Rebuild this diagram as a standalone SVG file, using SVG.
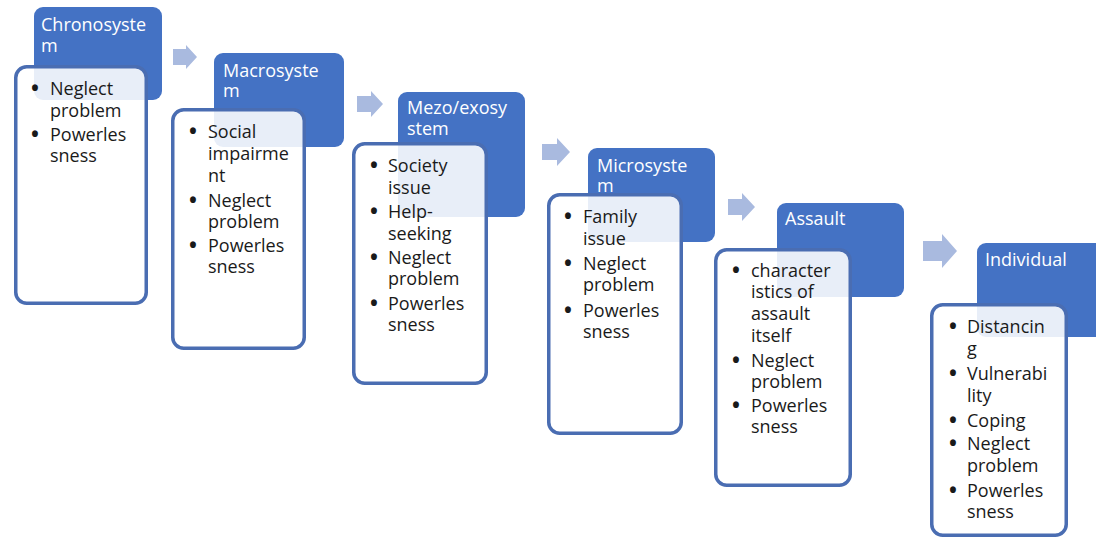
<svg xmlns="http://www.w3.org/2000/svg" width="1096" height="539" viewBox="0 0 1096 539">
<style>
.hd{fill:#4472c4;}
.bx{fill:#ffffff;fill-opacity:0.88;stroke:#4a6db2;stroke-width:3.5;}
.ht{fill:#ffffff;font-family:"Open Sans","DejaVu Sans",sans-serif;font-size:18px;}
.bt{fill:#1a1a1a;font-family:"Open Sans","DejaVu Sans",sans-serif;font-size:18px;}
.bu{font-size:21px;font-weight:bold;}
.ar{fill:#a9badf;}
</style>
<rect width="1096" height="539" fill="#ffffff"/>
<g id="connectors">
<path class="ar" d="M173,49 H186 V45 L197,57 L186,69 V65 H173 Z"/>
<path class="ar" d="M357,96 H371 V91 L383,104 L371,117 V112 H357 Z"/>
<path class="ar" d="M542,144 H557 V138 L570,152 L557,166 V160 H542 Z"/>
<path class="ar" d="M728,199 H742 V193 L755,207 L742,221 V215 H728 Z"/>
<path class="ar" d="M923,241 H942 V234 L957,251 L942,268 V261 H923 Z"/>
</g>
<g id="chronosystem">
<rect class="hd" x="34" y="7" width="128" height="93" rx="9"/>
<text class="ht"><tspan x="41" y="31">Chronosyste</tspan><tspan x="41" y="52">m</tspan></text>
<rect class="bx" x="15.75" y="66.75" width="130.5" height="236.5" rx="11"/>
<text class="bt"><tspan class="bu" x="31" y="96">•</tspan><tspan x="50" y="95">Neglect</tspan><tspan x="50" y="117">problem</tspan><tspan class="bu" x="31" y="142">•</tspan><tspan x="50" y="141">Powerles</tspan><tspan x="50" y="162">sness</tspan></text>
</g>
<g id="macrosystem">
<rect class="hd" x="214" y="53" width="130" height="94" rx="9"/>
<text class="ht"><tspan x="223" y="77">Macrosyste</tspan><tspan x="223" y="97">m</tspan></text>
<rect class="bx" x="172.75" y="109.75" width="131.5" height="238.5" rx="11"/>
<text class="bt"><tspan class="bu" x="189" y="139">•</tspan><tspan x="208" y="138">Social</tspan><tspan x="208" y="160">impairme</tspan><tspan x="208" y="182">nt</tspan><tspan class="bu" x="189" y="208">•</tspan><tspan x="208" y="207">Neglect</tspan><tspan x="208" y="228">problem</tspan><tspan class="bu" x="189" y="253">•</tspan><tspan x="208" y="252">Powerles</tspan><tspan x="208" y="273">sness</tspan></text>
</g>
<g id="mezo-exosystem">
<rect class="hd" x="398" y="92" width="127" height="125" rx="9"/>
<text class="ht"><tspan x="407" y="114">Mezo/exosy</tspan><tspan x="407" y="135">stem</tspan></text>
<rect class="bx" x="353.75" y="143.75" width="132.5" height="239.5" rx="11"/>
<text class="bt"><tspan class="bu" x="370" y="173">•</tspan><tspan x="388" y="172">Society</tspan><tspan x="388" y="194">issue</tspan><tspan class="bu" x="370" y="219">•</tspan><tspan x="388" y="218">Help-</tspan><tspan x="388" y="240">seeking</tspan><tspan class="bu" x="370" y="265">•</tspan><tspan x="388" y="264">Neglect</tspan><tspan x="388" y="285">problem</tspan><tspan class="bu" x="370" y="311">•</tspan><tspan x="388" y="310">Powerles</tspan><tspan x="388" y="331">sness</tspan></text>
</g>
<g id="microsystem">
<rect class="hd" x="588" y="148" width="127" height="94" rx="9"/>
<text class="ht"><tspan x="597" y="172">Microsyste</tspan><tspan x="597" y="192">m</tspan></text>
<rect class="bx" x="548.75" y="194.75" width="132.5" height="238.5" rx="11"/>
<text class="bt"><tspan class="bu" x="564" y="224">•</tspan><tspan x="583" y="223">Family</tspan><tspan x="583" y="245">issue</tspan><tspan class="bu" x="564" y="271">•</tspan><tspan x="583" y="270">Neglect</tspan><tspan x="583" y="291">problem</tspan><tspan class="bu" x="564" y="318">•</tspan><tspan x="583" y="317">Powerles</tspan><tspan x="583" y="338">sness</tspan></text>
</g>
<g id="assault">
<rect class="hd" x="777" y="203" width="127" height="94" rx="9"/>
<text class="ht"><tspan x="785" y="225">Assault</tspan></text>
<rect class="bx" x="715.75" y="249.75" width="134.5" height="235.5" rx="11"/>
<text class="bt"><tspan class="bu" x="732" y="278">•</tspan><tspan x="751" y="277">character</tspan><tspan x="751" y="298">istics of</tspan><tspan x="751" y="320">assault</tspan><tspan x="751" y="342">itself</tspan><tspan class="bu" x="732" y="368">•</tspan><tspan x="751" y="367">Neglect</tspan><tspan x="751" y="388">problem</tspan><tspan class="bu" x="732" y="413">•</tspan><tspan x="751" y="412">Powerles</tspan><tspan x="751" y="433">sness</tspan></text>
</g>
<g id="individual">
<rect class="hd" x="977" y="243" width="135" height="94" rx="9"/>
<text class="ht"><tspan x="985" y="266">Individual</tspan></text>
<rect class="bx" x="931.75" y="304.75" width="134.5" height="230.5" rx="11"/>
<text class="bt"><tspan class="bu" x="949" y="334">•</tspan><tspan x="967" y="333">Distancin</tspan><tspan x="967" y="355">g</tspan><tspan class="bu" x="949" y="381">•</tspan><tspan x="967" y="380">Vulnerabi</tspan><tspan x="967" y="402">lity</tspan><tspan class="bu" x="949" y="428">•</tspan><tspan x="967" y="427">Coping</tspan><tspan class="bu" x="949" y="451">•</tspan><tspan x="967" y="450">Neglect</tspan><tspan x="967" y="472">problem</tspan><tspan class="bu" x="949" y="498">•</tspan><tspan x="967" y="497">Powerles</tspan><tspan x="967" y="518">sness</tspan></text>
</g>
</svg>
